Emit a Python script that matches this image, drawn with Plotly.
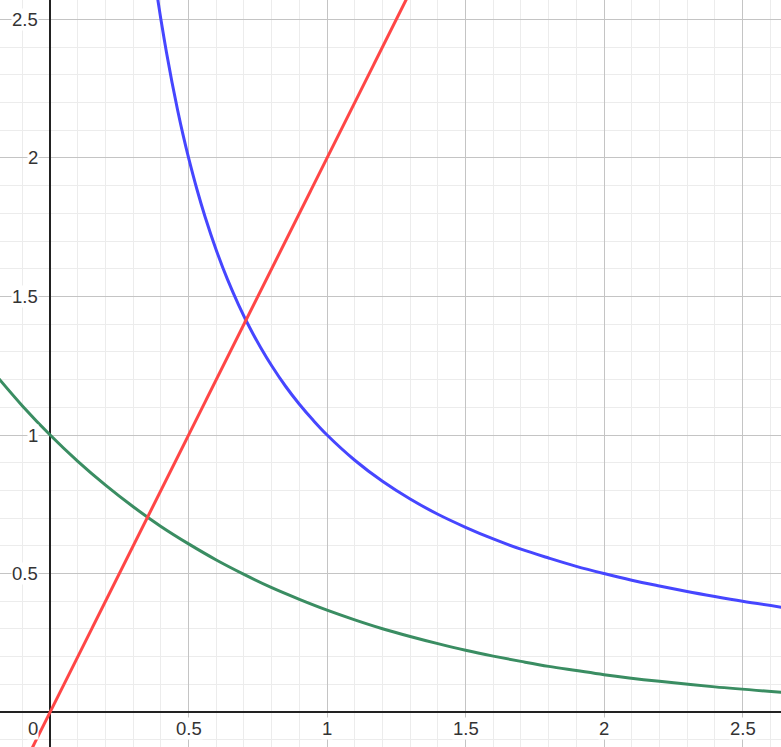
import plotly.graph_objects as go

# Red line y = 2x
red_x = [-0.1, 0.0, 0.5, 1.0, 1.4]
red_y = [-0.2, 0.0, 1.0, 2.0, 2.8]

# Blue curve y = 1/x
blue_x = [0.36, 0.37, 0.38, 0.39, 0.40, 0.42, 0.44, 0.46, 0.48, 0.5, 0.53, 0.56, 0.6, 0.64,
          0.68, 0.72, 0.76, 0.8, 0.85, 0.9, 0.95, 1.0, 1.1, 1.2, 1.3, 1.4, 1.5, 1.6, 1.7,
          1.8, 1.9, 2.0, 2.1, 2.2, 2.3, 2.4, 2.5, 2.65]
blue_y = [2.778, 2.703, 2.632, 2.564, 2.5, 2.381, 2.273, 2.174, 2.083, 2.0, 1.887, 1.786,
          1.667, 1.5625, 1.471, 1.389, 1.316, 1.25, 1.176, 1.111, 1.053, 1.0, 0.909, 0.833,
          0.769, 0.714, 0.667, 0.625, 0.588, 0.556, 0.526, 0.5, 0.476, 0.455, 0.435, 0.417,
          0.4, 0.377]

# Green curve y = e^-x
green_x = [-0.2, -0.1, 0.0, 0.1, 0.2, 0.3, 0.4, 0.5, 0.6, 0.7, 0.8, 0.9, 1.0, 1.1, 1.2, 1.3,
           1.4, 1.5, 1.6, 1.7, 1.8, 1.9, 2.0, 2.2, 2.4, 2.65]
green_y = [1.221, 1.105, 1.0, 0.905, 0.819, 0.741, 0.670, 0.607, 0.549, 0.497, 0.449, 0.407,
           0.368, 0.333, 0.301, 0.273, 0.247, 0.223, 0.202, 0.183, 0.165, 0.150, 0.135,
           0.111, 0.091, 0.071]

x_ticks = [0.5, 1, 1.5, 2, 2.5]
x_tick_labels = ["0.5", "1", "1.5", "2", "2.5"]
y_ticks = [0.5, 1, 1.5, 2, 2.5]
y_tick_labels = ["0.5", "1", "1.5", "2", "2.5"]

fig = go.Figure()
fig.add_trace(go.Scatter(x=green_x, y=green_y, mode="lines", line=dict(color="#3a8d62", width=3, shape="spline", smoothing=1)))
fig.add_trace(go.Scatter(x=blue_x, y=blue_y, mode="lines", line=dict(color="#4646ff", width=3, shape="spline", smoothing=1)))
fig.add_trace(go.Scatter(x=red_x, y=red_y, mode="lines", line=dict(color="#ff4646", width=3)))

font = dict(family="Liberation Sans, Arial, sans-serif", size=18.5, color="#333333")
ann = []
for v, t in zip(x_ticks, x_tick_labels):
    ann.append(dict(x=v, y=0, xref="x", yref="y", text=t, showarrow=False, xanchor="center",
                    yanchor="top", yshift=-5, font=font, bgcolor="white", borderpad=0))
for v, t in zip(y_ticks, y_tick_labels):
    ann.append(dict(x=0, y=v, xref="x", yref="y", text=t, showarrow=False, xanchor="right",
                    yanchor="middle", xshift=-11, font=font, bgcolor="white", borderpad=0))
ann.append(dict(x=0, y=0, xref="x", yref="y", text="0", showarrow=False, xanchor="right",
                yanchor="top", xshift=-11, yshift=-5, font=font, bgcolor="white", borderpad=0))

fig.update_layout(
    width=781, height=747,
    margin=dict(l=0, r=0, t=0, b=0),
    paper_bgcolor="white", plot_bgcolor="white",
    showlegend=False,
    annotations=ann,
    xaxis=dict(range=[-0.181, 2.639], dtick=0.5, tick0=0, showgrid=True, gridcolor="#c4c4c4", gridwidth=1,
               minor=dict(dtick=0.1, tick0=0, showgrid=True, gridcolor="#ececec", gridwidth=1),
               showticklabels=False, zeroline=True, zerolinecolor="#222222", zerolinewidth=1.5,
               showline=False, ticks=""),
    yaxis=dict(range=[-0.126, 2.57], dtick=0.5, tick0=0, showgrid=True, gridcolor="#c4c4c4", gridwidth=1,
               minor=dict(dtick=0.1, tick0=0, showgrid=True, gridcolor="#ececec", gridwidth=1),
               showticklabels=False, zeroline=True, zerolinecolor="#222222", zerolinewidth=1.5,
               showline=False, ticks=""),
)
fig.write_html("out.html", config={"displayModeBar": False},
               post_script="document.body.style.margin='0';document.body.style.overflow='hidden';")
